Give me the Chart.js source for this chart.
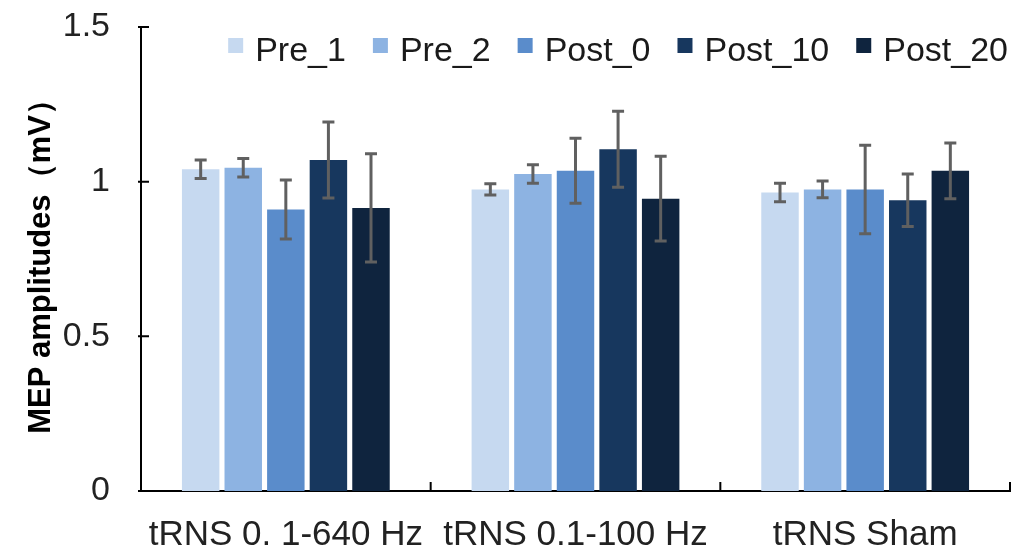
<!DOCTYPE html>
<html>
<head>
<meta charset="utf-8">
<script src="https://cdn.jsdelivr.net/npm/chart.js@4.4.1/dist/chart.umd.min.js"></script>
<style>
  html, body { margin: 0; padding: 0; background: #fff; }
</style>
</head>
<body>
<canvas id="chart" width="1025" height="550"></canvas>
<script>
// data
const categories = ['tRNS 0. 1-640 Hz', 'tRNS 0.1-100 Hz', 'tRNS Sham'];
const seriesNames = ['Pre_1', 'Pre_2', 'Post_0', 'Post_10', 'Post_20'];
const pre1 = [1.04, 0.975, 0.965];
const pre2 = [1.045, 1.025, 0.975];
const post0 = [0.91, 1.035, 0.975];
const post10 = [1.07, 1.105, 0.94];
const post20 = [0.915, 0.945, 1.035];
const pre1Err = [0.03, 0.018, 0.03];
const pre2Err = [0.03, 0.03, 0.027];
const post0Err = [0.095, 0.105, 0.143];
const post10Err = [0.123, 0.123, 0.085];
const post20Err = [0.175, 0.137, 0.09];
const yTicks = [0, 0.5, 1, 1.5];
const colors = ['#c6d9f0', '#8db3e2', '#5a8ccb', '#17375e', '#0f243e'];

const values = [pre1, pre2, post0, post10, post20];
const errors = [pre1Err, pre2Err, post0Err, post10Err, post20Err];
const FONT = "'Liberation Sans', Arial, sans-serif";

// error bars, using the y scale
const errorBars = {
  id: 'errorBars',
  afterDatasetsDraw(chart) {
    const ctx = chart.ctx;
    const y = chart.scales.y;
    ctx.save();
    ctx.strokeStyle = '#606060';
    ctx.lineWidth = 3;
    chart.data.datasets.forEach((ds, i) => {
      chart.getDatasetMeta(i).data.forEach((bar, j) => {
        const top = y.getPixelForValue(ds.data[j] + ds.errors[j]);
        const bot = y.getPixelForValue(ds.data[j] - ds.errors[j]);
        ctx.beginPath();
        ctx.moveTo(bar.x, top); ctx.lineTo(bar.x, bot);
        ctx.moveTo(bar.x - 6, top); ctx.lineTo(bar.x + 6, top);
        ctx.moveTo(bar.x - 6, bot); ctx.lineTo(bar.x + 6, bot);
        ctx.stroke();
      });
    });
    ctx.restore();
  }
};

// inward tick marks on both axes
const innerTicks = {
  id: 'innerTicks',
  afterDraw(chart) {
    const ctx = chart.ctx;
    const {x, y} = chart.scales;
    ctx.save();
    ctx.strokeStyle = '#000';
    ctx.lineWidth = 2;
    ctx.beginPath();
    y.ticks.forEach(t => {
      const py = y.getPixelForValue(t.value);
      ctx.moveTo(x.left - 3, py); ctx.lineTo(x.left + 8, py);
    });
    const w = (x.right - x.left) / categories.length;
    for (let k = 1; k <= categories.length; k++) {
      const px = x.left + k * w;
      ctx.moveTo(px, y.bottom); ctx.lineTo(px, y.bottom - 9);
    }
    ctx.stroke();
    ctx.restore();
  }
};

// legend inside the plot, top right
const innerLegend = {
  id: 'innerLegend',
  afterDraw(chart) {
    const ctx = chart.ctx;
    ctx.save();
    ctx.font = '34px ' + FONT;
    ctx.textBaseline = 'alphabetic';
    const box = 15, gap = 12, spacing = 27;
    const items = chart.data.datasets.map(ds => ({label: ds.label, color: ds.backgroundColor, w: ctx.measureText(ds.label).width}));
    let total = items.reduce((s, it) => s + box + gap + it.w, 0) + spacing * (items.length - 1);
    let px = chart.chartArea.right - 2 - total;
    items.forEach(it => {
      ctx.fillStyle = it.color;
      ctx.fillRect(px, 38, box, box);
      ctx.fillStyle = '#1a1a1a';
      ctx.fillText(it.label, px + box + gap, 61);
      px += box + gap + it.w + spacing;
    });
    ctx.restore();
  }
};

new Chart(document.getElementById('chart').getContext('2d'), {
  type: 'bar',
  data: {
    labels: categories,
    datasets: seriesNames.map((name, i) => ({
      label: name,
      data: values[i],
      errors: errors[i],
      backgroundColor: colors[i],
      borderWidth: 0,
      categoryPercentage: 0.735,
      barPercentage: 0.88
    }))
  },
  options: {
    responsive: false,
    animation: false,
    layout: { padding: { top: 27, right: 15, left: 0, bottom: 0 } },
    plugins: {
      legend: { display: false },
      tooltip: { enabled: false }
    },
    scales: {
      x: {
        grid: { display: false, drawTicks: false },
        border: { color: '#000', width: 2 },
        ticks: { color: '#222', font: { family: FONT, size: 35 }, padding: 23, maxRotation: 0, autoSkip: false },
        afterFit(scale) { scale.height = 59; }
      },
      y: {
        min: 0,
        max: 1.5,
        afterBuildTicks(scale) { scale.ticks = yTicks.map(v => ({value: v})); },
        grid: { display: false, drawTicks: false },
        border: { color: '#000', width: 2 },
        ticks: { color: '#222', font: { family: FONT, size: 34 }, padding: 31, callback: v => String(v) },
        title: {
          display: true,
          text: 'MEP amplitudes（mV）',
          color: '#000',
          font: { family: FONT, size: 31, weight: 'bold' },
          padding: { top: 23, bottom: 0 }
        },
        afterFit(scale) {
          scale.width = 141;
          scale.paddingTop = 0;
          scale.paddingBottom = 0;
        }
      }
    }
  },
  plugins: [errorBars, innerTicks, innerLegend]
});
</script>
</body>
</html>
